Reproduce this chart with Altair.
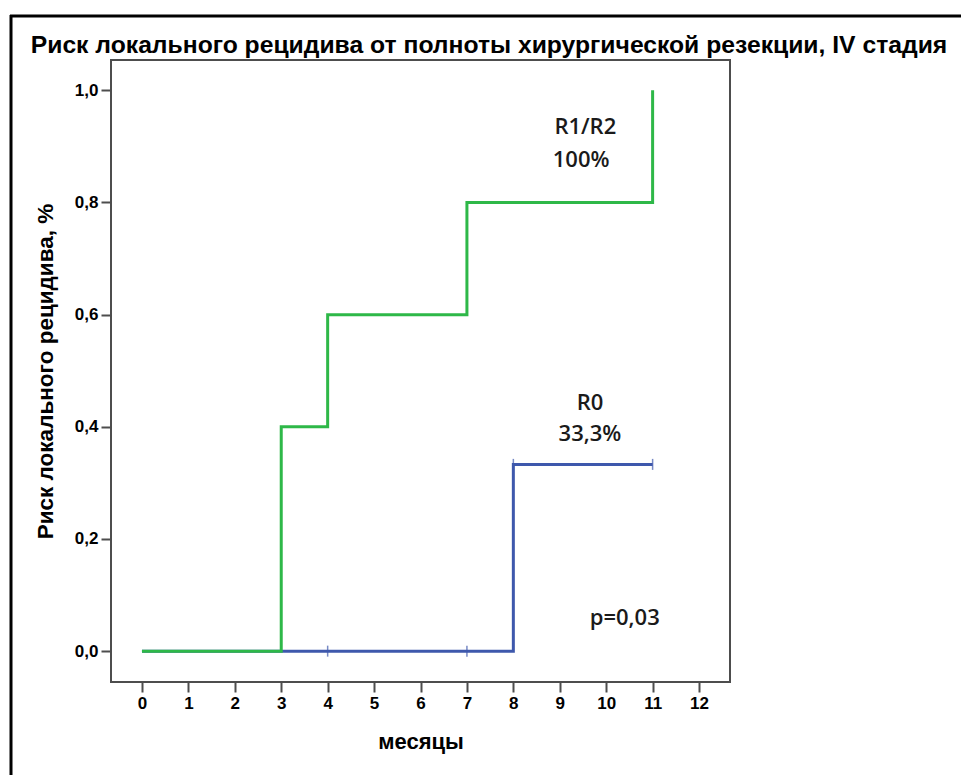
import altair as alt
import pandas as pd

# --- data ---
green_t = [0, 3, 4, 7, 11]
green_risk = [0.0, 0.4, 0.6, 0.8, 1.0]
blue_t = [0, 8, 11]
blue_risk = [0.0, 0.333, 0.333]
blue_cens_t = [4, 7, 8, 11]
blue_cens_risk = [0.0, 0.0, 0.333, 0.333]
x_ticks = list(range(13))
y_ticks = [0.0, 0.2, 0.4, 0.6, 0.8, 1.0]
ann_text = ["R1/R2", "100%", "R0", "33,3%", "p=0,03"]
ann_x = [9.55, 9.46, 9.65, 9.65, 10.4]
ann_y = [0.934, 0.875, 0.442, 0.388, 0.060]
title_text = ["Риск локального рецидива от полноты хирургической резекции, IV стадия"]

GREEN = "#2EB848"
BLUE = "#3E58AC"
FRAME = "#4d4d4d"

green_df = pd.DataFrame({"t": green_t, "r": green_risk})
blue_df = pd.DataFrame({"t": blue_t, "r": blue_risk})
cens_df = pd.DataFrame({"t": blue_cens_t, "r": blue_cens_risk})
ann_df = pd.DataFrame({"label": ann_text, "t": ann_x, "r": ann_y})
title_df = pd.DataFrame({"label": title_text})

xs = alt.Scale(domain=[-0.667, 12.667], nice=False, zero=False)
ys = alt.Scale(domain=[-0.055, 1.054], nice=False, zero=False)

x_axis = alt.Axis(values=x_ticks, title="месяцы", grid=False, domain=False,
                  tickSize=10, tickWidth=2, tickColor=FRAME,
                  labelFont="Liberation Sans", labelFontWeight="bold",
                  labelFontSize=17, labelColor="black", labelPadding=3,
                  titleFont="Liberation Sans", titleFontWeight="bold",
                  titleFontSize=22, titleColor="black", titlePadding=20)
y_axis = alt.Axis(values=y_ticks, title="Риск локального рецидива, %", grid=False,
                  domain=False, tickSize=10, tickWidth=2, tickColor=FRAME,
                  labelExpr="replace(format(datum.value, '.1f'), '.', ',')",
                  labelFont="Liberation Sans", labelFontWeight="bold",
                  labelFontSize=17, labelColor="black", labelPadding=3,
                  titleFont="Liberation Sans", titleFontWeight="bold",
                  titleFontSize=22.5, titleColor="black", titlePadding=17)

blue_line = alt.Chart(blue_df).mark_line(interpolate="step-after", color=BLUE,
                                         strokeWidth=3).encode(
    x=alt.X("t:Q", scale=xs, axis=x_axis),
    y=alt.Y("r:Q", scale=ys, axis=y_axis),
)
blue_cens = alt.Chart(cens_df).mark_tick(orient="vertical", color=BLUE,
                                         size=11, thickness=1.5).encode(
    x=alt.X("t:Q", scale=xs), y=alt.Y("r:Q", scale=ys))
green_line = alt.Chart(green_df).mark_line(interpolate="step-after", color=GREEN,
                                           strokeWidth=3).encode(
    x=alt.X("t:Q", scale=xs), y=alt.Y("r:Q", scale=ys))
ann = alt.Chart(ann_df).mark_text(font="Open Sans", fontWeight=600, fontSize=22,
                                  color="#1a1a1a", align="center",
                                  baseline="middle").encode(
    x=alt.X("t:Q", scale=xs), y=alt.Y("r:Q", scale=ys), text="label:N")

title = alt.Chart(title_df).mark_text(font="Liberation Sans", fontSize=24.7,
                                      fontWeight="bold", color="black",
                                      align="center", baseline="alphabetic").encode(
    x=alt.value(378), y=alt.value(-7), text="label:N")

border_left = alt.Chart(title_df).mark_rule(color="black", strokeWidth=3).encode(
    x=alt.value(-100), y=alt.value(-45), y2=alt.value(720))
border_top = alt.Chart(title_df).mark_rule(color="black", strokeWidth=3).encode(
    x=alt.value(-101), x2=alt.value(860), y=alt.value(-44))

chart = alt.layer(blue_line, blue_cens, green_line, ann, title,
                  border_left, border_top).properties(
    width=619, height=622,
    background="white",
    autosize=alt.AutoSizeParams(type="none"),
    padding={"left": 111, "top": 60, "right": 231, "bottom": 93},
).configure_view(stroke=FRAME, strokeWidth=2)

chart.save("out.html", embed_options={"renderer": "svg", "actions": False})
